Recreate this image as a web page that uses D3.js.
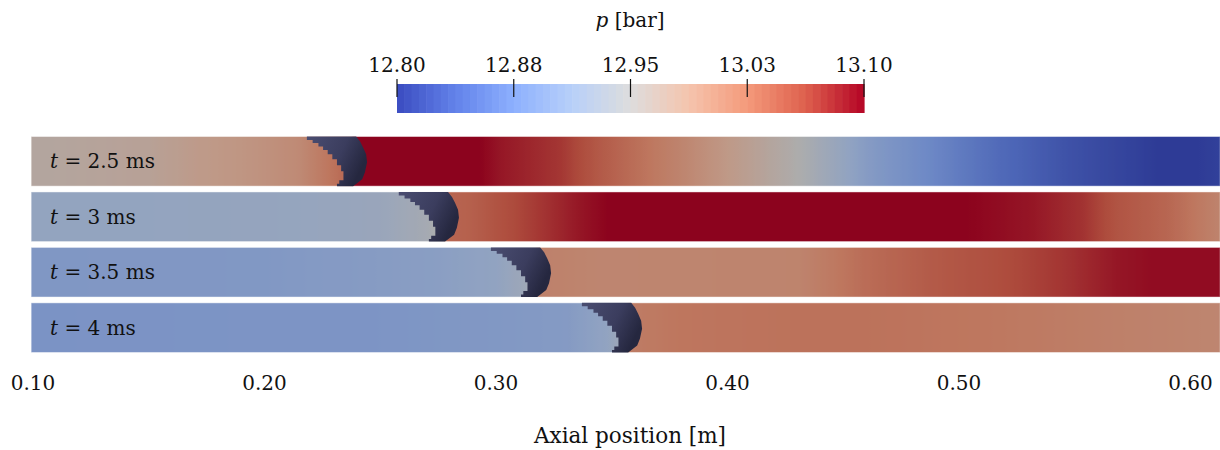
<!DOCTYPE html>
<html>
<head>
<meta charset="utf-8">
<script src="https://cdn.jsdelivr.net/npm/d3@7"></script>
<style>
  body { margin: 0; background: #fff; }
  text { font-family: "DejaVu Serif", serif; fill: #111; }
</style>
</head>
<body>
<div class="canvas"></div>
<script>
// data
const timeLabels = ['2.5', '3', '3.5', '4'];
const blobFront = [0.2443, 0.2840, 0.3238, 0.3631];   // axial position of the bubble front [m]

// pressure profiles along the axis [m, bar]
const profile25 = [
  [0.099, 12.963], [0.150, 12.972], [0.172, 12.985], [0.194, 12.993], [0.215, 13.005],
  [0.224, 13.020], [0.233, 13.035], [0.2375, 13.035], [0.2385, 13.11], [0.276, 13.12],
  [0.302, 13.09], [0.328, 13.073], [0.345, 13.05], [0.381, 13.01], [0.402, 12.985],
  [0.431, 12.95], [0.460, 12.902], [0.489, 12.872], [0.518, 12.842], [0.547, 12.82],
  [0.575, 12.806], [0.594, 12.795], [0.613, 12.805]
];
const profile30 = [
  [0.099, 12.918], [0.150, 12.918], [0.215, 12.92], [0.250, 12.925], [0.270, 12.94],
  [0.2775, 12.955], [0.2785, 13.04], [0.289, 13.045], [0.316, 13.07], [0.336, 13.09],
  [0.354, 13.105], [0.400, 13.12], [0.496, 13.12], [0.5035, 13.10], [0.532, 13.09],
  [0.5536, 13.075], [0.5683, 13.055], [0.590, 13.04], [0.613, 13.012]
];
const profile35 = [
  [0.099, 12.895], [0.200, 12.897], [0.270, 12.905], [0.300, 12.915], [0.312, 12.93],
  [0.317, 12.945], [0.318, 13.015], [0.345, 13.01], [0.431, 13.012], [0.460, 13.035],
  [0.489, 13.05], [0.518, 13.06], [0.547, 13.075], [0.568, 13.09], [0.583, 13.095],
  [0.613, 13.095]
];
const profile40 = [
  [0.099, 12.89], [0.250, 12.892], [0.330, 12.90], [0.348, 12.915], [0.3565, 12.94],
  [0.3575, 13.02], [0.380, 13.027], [0.430, 13.03], [0.460, 13.03], [0.518, 13.025],
  [0.575, 13.015], [0.613, 13.01]
];
const profiles = [profile25, profile30, profile35, profile40];

// bubble outline relative to its front: [axial offset mm, radial fraction]
const blobShape = [
  [-26.0, 0], [-26.0, 0.07], [-23.5, 0.07], [-23.5, 0.13], [-21.0, 0.13], [-21.0, 0.2],
  [-19.0, 0.2], [-19.0, 0.27], [-17.0, 0.27], [-17.0, 0.36], [-15.0, 0.36], [-15.0, 0.46],
  [-13.0, 0.46], [-13.0, 0.58], [-11.2, 0.58], [-11.2, 0.7], [-10.2, 0.7], [-10.2, 0.88],
  [-12.0, 0.88], [-12.0, 0.95], [-13.0, 0.95], [-13.0, 1],
  [-6.0, 1], [-2.1, 0.86], [-0.9, 0.72], [0, 0.52], [-0.4, 0.36], [-1.7, 0.22],
  [-3.0, 0.1], [-4.7, 0]
];

const axisTicks = [0.10, 0.20, 0.30, 0.40, 0.50, 0.60];
const stripExtent = [0.0992, 0.6128];
const pRange = [12.80, 13.10];
const cbTickValues = [12.80, 12.875, 12.95, 13.025, 13.10];
const cbTickLabels = ['12.80', '12.88', '12.95', '13.03', '13.10'];

// cool to warm colour map (Moreland)
const coolWarm = ['#3b4cc0', '#6282ea', '#8db0fe', '#b8d0f9', '#dddddd',
                  '#f5c4ad', '#f49a7b', '#de604d', '#b40426'];
const shade = 0.78;

const dims = { width: 1220, height: 450 };

const svg = d3.select('.canvas')
  .append('svg')
  .attr('width', dims.width)
  .attr('height', dims.height);

const defs = svg.append('defs');

const x = d3.scaleLinear().domain([0.1, 0.6]).range([33, 1190.5]);
const y = d3.scaleBand().domain(timeLabels).range([136.5, 352.5]).paddingInner(0.105);

const cmap = d3.scaleLinear()
  .domain(d3.range(coolWarm.length).map(i => pRange[0] + i * (pRange[1] - pRange[0]) / (coolWarm.length - 1)))
  .range(coolWarm)
  .interpolate(d3.interpolateRgb)
  .clamp(true);

const shaded = p => {
  const c = d3.rgb(cmap(p));
  return d3.rgb(c.r * shade, c.g * shade, c.b * shade).formatHex();
};

// strips
const x0 = x(stripExtent[0]), x1 = x(stripExtent[1]);

profiles.forEach((prof, i) => {
  const pAt = d3.scaleLinear().domain(prof.map(d => d[0])).range(prof.map(d => d[1]));
  const grad = defs.append('linearGradient')
    .attr('id', 'strip' + i)
    .attr('gradientUnits', 'userSpaceOnUse')
    .attr('x1', x0).attr('x2', x1).attr('y1', 0).attr('y2', 0);
  d3.range(x0, x1 + 1, 2).forEach(px => {
    grad.append('stop')
      .attr('offset', (px - x0) / (x1 - x0))
      .attr('stop-color', shaded(pAt(x.invert(px))));
  });
});

const strips = svg.append('g')
  .selectAll('g')
  .data(timeLabels)
  .enter().append('g')
    .attr('transform', d => `translate(0, ${y(d)})`);

strips.append('rect')
  .attr('x', x0)
  .attr('width', x1 - x0)
  .attr('height', y.bandwidth())
  .attr('fill', (d, i) => `url(#strip${i})`)
  .attr('stroke', 'rgba(255,255,255,0.45)')
  .attr('stroke-width', 1);

// bubble
const blobGrad = defs.append('linearGradient').attr('id', 'blob')
  .attr('x1', 0).attr('x2', 1).attr('y1', 0).attr('y2', 0.4);
blobGrad.append('stop').attr('offset', 0).attr('stop-color', '#4a4d71');
blobGrad.append('stop').attr('offset', 0.6).attr('stop-color', '#3b3d5e');
blobGrad.append('stop').attr('offset', 1).attr('stop-color', '#25273f');

strips.append('path')
  .attr('d', (d, i) => d3.line()
      .x(s => x(blobFront[i] + s[0] / 1000))
      .y(s => s[1] * y.bandwidth())(blobShape) + 'Z')
  .attr('fill', 'url(#blob)');

strips.append('text')
  .attr('x', 50)
  .attr('y', y.bandwidth() / 2 + 7)
  .attr('font-size', 20)
  .html(d => `<tspan font-style="italic">t</tspan> = ${d} ms`);

// axis labels
svg.append('g')
  .selectAll('text')
  .data(axisTicks)
  .enter().append('text')
    .attr('x', d => x(d))
    .attr('y', 390)
    .attr('text-anchor', 'middle')
    .attr('font-size', 20)
    .text(d => d.toFixed(2));

svg.append('text')
  .attr('x', 630)
  .attr('y', 443)
  .attr('text-anchor', 'middle')
  .attr('font-size', 21.5)
  .text('Axial position [m]');

// colour bar
const cb = d3.scaleLinear().domain(pRange).range([397, 864]);
const bands = d3.range(64);
const bandW = (cb.range()[1] - cb.range()[0]) / bands.length;

const cbar = svg.append('g');
cbar.selectAll('rect')
  .data(bands)
  .enter().append('rect')
    .attr('x', d => cb.range()[0] + d * bandW)
    .attr('y', 84)
    .attr('width', bandW + 0.6)
    .attr('height', 29)
    .attr('fill', d => cmap(pRange[0] + (d + 0.5) / bands.length * (pRange[1] - pRange[0])));

cbar.selectAll('line')
  .data(cbTickValues)
  .enter().append('line')
    .attr('x1', d => cb(d)).attr('x2', d => cb(d))
    .attr('y1', 79).attr('y2', 97)
    .attr('stroke', '#111')
    .attr('stroke-width', 1.2);

cbar.selectAll('text')
  .data(cbTickValues)
  .enter().append('text')
    .attr('x', d => cb(d))
    .attr('y', 72)
    .attr('text-anchor', 'middle')
    .attr('font-size', 20)
    .text((d, i) => cbTickLabels[i]);

svg.append('text')
  .attr('x', 630)
  .attr('y', 27)
  .attr('text-anchor', 'middle')
  .attr('font-size', 20)
  .html('<tspan font-style="italic">p</tspan> [bar]');
</script>
</body>
</html>
